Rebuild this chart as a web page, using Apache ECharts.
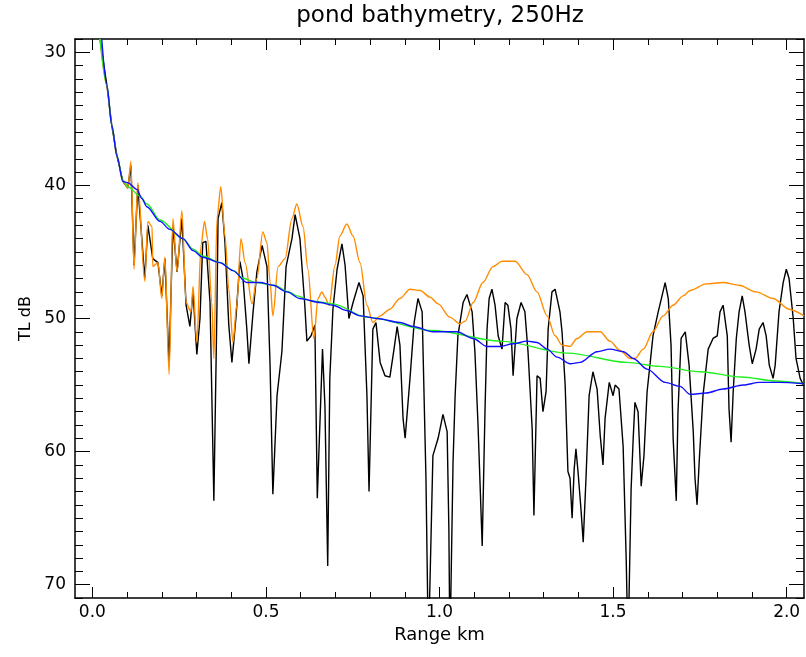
<!DOCTYPE html>
<html>
<head>
<meta charset="utf-8">
<script src="https://cdn.jsdelivr.net/npm/echarts@6/dist/echarts.min.js"></script>
<style>
html,body{margin:0;padding:0;background:#fff;}
#chart{width:806px;height:657px;}
</style>
</head>
<body>
<div id="chart"></div>
<script>
// ---- data (range in km, transmission loss in dB) ----
const rangeBlack = [0.022,0.042,0.056,0.071,0.088,0.102,0.111,0.120,0.131,0.151,0.160,0.174,0.189,0.200,0.209,0.221,0.232,0.244,0.258,0.270,0.281,0.290,0.301,0.310,0.318,0.327,0.339,0.350,0.359,0.362,0.373,0.382,0.393,0.402,0.414,0.425,0.434,0.445,0.451,0.463,0.474,0.489,0.503,0.512,0.520,0.532,0.546,0.558,0.575,0.584,0.598,0.612,0.618,0.630,0.641,0.648,0.663,0.670,0.678,0.684,0.693,0.705,0.719,0.728,0.739,0.751,0.768,0.780,0.791,0.797,0.808,0.817,0.829,0.843,0.857,0.869,0.878,0.886,0.895,0.901,0.915,0.927,0.938,0.950,0.961,0.968,0.981,0.996,1.010,1.022,1.027,1.030,1.039,1.045,1.053,1.068,1.079,1.094,1.102,1.111,1.123,1.131,1.137,1.143,1.151,1.160,1.169,1.180,1.189,1.197,1.206,1.212,1.223,1.235,1.246,1.255,1.267,1.272,1.281,1.290,1.298,1.307,1.313,1.324,1.333,1.347,1.353,1.362,1.370,1.376,1.382,1.388,1.393,1.399,1.408,1.414,1.422,1.431,1.442,1.454,1.463,1.471,1.477,1.489,1.500,1.506,1.517,1.529,1.538,1.543,1.552,1.558,1.563,1.572,1.581,1.589,1.598,1.607,1.615,1.630,1.641,1.650,1.659,1.667,1.673,1.682,1.687,1.696,1.708,1.719,1.731,1.736,1.742,1.748,1.759,1.774,1.788,1.800,1.808,1.817,1.829,1.834,1.840,1.846,1.855,1.863,1.872,1.880,1.892,1.901,1.912,1.921,1.932,1.941,1.950,1.961,1.967,1.978,1.990,1.999,2.007,2.019,2.027,2.039,2.048];
const tlBlack = [29.0,32.5,35.5,37.8,39.7,40.2,38.5,46.0,40.0,47.0,43.0,45.5,45.8,48.3,45.5,53.5,43.0,46.5,42.5,49.0,50.6,48.0,52.7,50.0,44.3,44.2,48.8,63.7,49.0,42.5,41.3,44.3,50.5,53.3,49.8,45.7,47.0,50.8,53.4,49.5,46.5,44.5,46.1,53.6,63.2,55.8,52.5,46.1,44.0,42.2,44.0,49.0,51.7,51.3,50.5,63.5,52.3,56.6,68.6,54.5,49.3,46.3,44.4,46.0,50.0,48.8,47.3,48.3,55.8,63.0,50.8,50.3,53.3,54.3,54.4,52.3,50.6,52.0,57.5,59.0,54.5,50.3,48.5,49.5,62.0,75,60.3,59.0,57.2,58.5,65.8,75,60.8,55.8,51.3,48.8,48.2,49.5,52.5,58.0,67.1,57.0,50.8,48.5,47.8,49.0,51.3,52.3,48.8,49.0,50.8,54.3,50.0,48.8,49.5,52.5,58.3,64.8,54.3,54.5,57.0,55.5,50.8,48.0,47.8,49.5,51.0,55.0,61.5,62.0,65.0,61.3,59.8,61.5,64.5,66.8,62.0,55.8,54.0,55.3,58.8,61.0,57.5,54.8,55.8,55.0,55.3,59.6,68.3,75,62.8,59.0,56.3,57.0,62.6,60.3,55.5,53.3,51.3,49.5,48.3,47.3,48.5,52.0,59.0,63.7,57.0,51.5,51.0,53.5,58.5,62.0,64.0,60.8,55.8,52.3,51.5,51.3,49.5,49.0,51.3,56.8,59.3,55.5,51.5,49.5,48.3,49.5,52.0,53.4,52.3,50.8,50.3,51.3,53.5,54.5,53.5,49.5,47.3,46.3,47.0,50.0,53.0,54.5,55.0];

const rangeOrange = [0.022,0.042,0.056,0.071,0.088,0.102,0.111,0.120,0.131,0.151,0.160,0.172,0.174,0.189,0.200,0.209,0.221,0.232,0.244,0.258,0.270,0.284,0.290,0.301,0.313,0.323,0.332,0.344,0.350,0.359,0.370,0.382,0.393,0.405,0.416,0.428,0.440,0.460,0.474,0.491,0.503,0.512,0.520,0.535,0.555,0.575,0.589,0.607,0.621,0.638,0.650,0.661,0.670,0.682,0.699,0.713,0.733,0.751,0.771,0.791,0.808,0.829,0.857,0.886,0.915,0.944,0.973,0.996,1.030,1.059,1.074,1.097,1.125,1.154,1.180,1.218,1.252,1.281,1.310,1.333,1.353,1.376,1.396,1.425,1.463,1.491,1.520,1.549,1.563,1.587,1.615,1.644,1.673,1.702,1.722,1.768,1.817,1.863,1.912,1.961,2.007,2.050];
const tlOrange = [29.0,32.5,35.5,37.8,39.7,40.2,38.2,46.3,39.8,47.2,42.7,43.1,46.1,45.8,48.5,45.4,54.2,42.5,46.5,41.9,48.8,49.5,47.6,51.8,44.5,42.7,44.0,48.8,53.0,42.5,40.1,43.8,47.8,51.8,49.0,44.0,45.8,48.9,47.0,43.5,44.3,47.3,49.8,46.1,45.5,42.5,41.4,43.1,46.3,51.5,48.5,48.0,48.4,49.0,46.0,43.8,42.9,43.8,45.8,49.0,50.3,49.8,49.3,48.5,47.8,47.9,48.4,48.9,49.9,50.4,50.2,48.8,47.3,46.1,45.7,45.7,46.7,48.0,49.8,51.3,52.0,52.1,51.5,51.0,51.0,51.7,52.4,53.0,53.0,52.3,51.0,49.8,49.0,48.3,47.9,47.4,47.3,47.5,48.0,48.5,49.3,49.8];

const rangeGreen = [0.022,0.042,0.056,0.071,0.088,0.102,0.137,0.157,0.195,0.261,0.290,0.318,0.370,0.405,0.436,0.471,0.523,0.566,0.589,0.635,0.693,0.790,0.980,1.174,1.370,1.540,1.635,1.751,1.870,1.970,2.050];
const tlGreen = [29.0,32.5,35.5,37.8,39.6,40.1,40.8,41.4,42.6,44.0,44.8,45.3,45.8,46.4,47.0,47.3,47.5,48.0,48.3,48.7,48.9,49.9,50.9,51.7,52.6,53.3,53.6,54.0,54.4,54.7,54.9];

const rangeBlue = [0.027,0.042,0.056,0.071,0.088,0.102,0.128,0.143,0.157,0.195,0.223,0.261,0.290,0.318,0.367,0.405,0.445,0.483,0.520,0.561,0.598,0.656,0.693,0.733,0.771,0.820,0.886,0.924,0.981,1.050,1.097,1.137,1.174,1.212,1.252,1.281,1.310,1.339,1.376,1.405,1.454,1.491,1.530,1.558,1.598,1.650,1.693,1.722,1.768,1.817,1.875,1.921,1.978,2.050];
const tlBlue = [29.0,32.5,35.5,37.8,39.7,39.8,40.3,41.0,41.6,42.7,43.3,44.0,44.9,45.4,45.8,46.4,47.3,47.3,47.5,48.0,48.5,48.8,49.0,49.4,49.8,50.0,50.3,50.6,51.0,51.0,51.5,52.1,52.1,51.9,51.7,51.8,52.3,52.9,53.4,53.3,52.5,52.3,52.5,53.0,53.8,54.8,55.1,55.7,55.6,55.3,55.0,54.8,54.8,54.9];

// ---- axis ticks ----
const xMajorTicks = [0.0, 0.5, 1.0, 1.5, 2.0];
const xMinorTicks = [0.0,0.1,0.2,0.3,0.4,0.5,0.6,0.7,0.8,0.9,1.0,1.1,1.2,1.3,1.4,1.5,1.6,1.7,1.8,1.9,2.0];
const yMajorTicks = [30, 40, 50, 60, 70];
const yMinorTicks = [29,30,31,32,33,34,35,36,37,38,39,40,41,42,43,44,45,46,47,48,49,50,51,52,53,54,55,56,57,58,59,60,61,62,63,64,65,66,67,68,69,70,71];

const zip = (xs, ys) => xs.map((x, i) => [x, ys[i]]);

const FONT = 'DejaVu Sans';
const X_MIN = -0.05, X_MAX = 2.05, Y_MIN = 29, Y_MAX = 71;
const frame = { show: true, onZero: false, lineStyle: { color: '#000', width: 1.5 } };
const noLine = { show: false, onZero: false };

function xAxisDef(pos, ticks, len, labels, line) {
  return {
    type: 'value', min: X_MIN, max: X_MAX, position: pos,
    axisLine: line ? frame : noLine,
    axisTick: { show: true, inside: true, length: len, customValues: ticks, lineStyle: { color: '#000', width: 1 } },
    axisLabel: labels ? { show: true, customValues: ticks, formatter: v => v.toFixed(1), color: '#000', fontFamily: FONT, fontSize: 17, margin: 6 } : { show: false },
    splitLine: { show: false }
  };
}
function yAxisDef(pos, ticks, len, labels, line) {
  return {
    type: 'value', min: Y_MIN, max: Y_MAX, inverse: true, position: pos,
    axisLine: line ? frame : noLine,
    axisTick: { show: true, inside: true, length: len, customValues: ticks, lineStyle: { color: '#000', width: 1 } },
    axisLabel: labels ? { show: true, customValues: ticks, formatter: v => String(Math.round(v)), color: '#000', fontFamily: FONT, fontSize: 17, margin: 9 } : { show: false },
    splitLine: { show: false }
  };
}

const xAxes = [
  Object.assign(xAxisDef('bottom', xMajorTicks, 11, true, true), { name: 'Range km', nameLocation: 'middle', nameGap: 25, nameTextStyle: { color: '#000', fontFamily: FONT, fontSize: 18 } }),
  xAxisDef('bottom', xMinorTicks, 6, false, false),
  xAxisDef('top', xMajorTicks, 11, false, true),
  xAxisDef('top', xMinorTicks, 6, false, false)
];
const yAxes = [
  Object.assign(yAxisDef('left', yMajorTicks, 15, true, true), { name: 'TL dB', nameLocation: 'middle', nameGap: 37, nameRotate: 90, nameTextStyle: { color: '#000', fontFamily: FONT, fontSize: 16 } }),
  yAxisDef('left', yMinorTicks, 8, false, false),
  yAxisDef('right', yMajorTicks, 15, false, true),
  yAxisDef('right', yMinorTicks, 8, false, false)
];

function lineSeries(name, xs, ys, color, smooth) {
  return {
    name, type: 'line', xAxisIndex: 0, yAxisIndex: 0,
    data: zip(xs, ys), showSymbol: false, symbol: 'none', clip: true,
    smooth: smooth, smoothMonotone: 'x',
    lineStyle: { color, width: 1.4 }, emphasis: { disabled: true }
  };
}

const chart = echarts.init(document.getElementById('chart'), null, { renderer: 'canvas' });
chart.setOption({
  animation: false,
  backgroundColor: '#fff',
  title: {
    text: 'pond bathymetry, 250Hz', left: 440, top: 5, padding: 0, textAlign: 'center',
    textStyle: { color: '#000', fontFamily: FONT, fontSize: 23, fontWeight: 'normal' }
  },
  grid: { left: 75, right: 2, top: 39, bottom: 59, containLabel: false },
  xAxis: xAxes,
  yAxis: yAxes,
  series: [
    lineSeries('coherent', rangeBlack, tlBlack, '#000000', false),
    lineSeries('adiabatic', rangeOrange, tlOrange, '#ff8c00', 0.3),
    lineSeries('incoherent', rangeGreen, tlGreen, '#22ee22', 0.3),
    lineSeries('smoothed', rangeBlue, tlBlue, '#1010ff', 0.3)
  ]
});
</script>
</body>
</html>
